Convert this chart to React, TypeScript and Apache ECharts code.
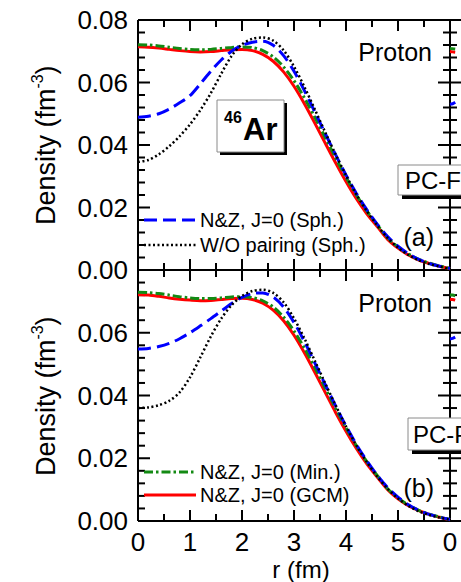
import React, { useEffect, useRef } from 'react';
import * as echarts from 'echarts';

// ---------- data ----------
const R = [0, 0.2, 0.4, 0.6, 0.8, 1.0, 1.2, 1.4, 1.6, 1.8, 2.0, 2.2, 2.4, 2.6, 2.8, 3.0, 3.2, 3.4, 3.6, 3.8, 4.0, 4.2, 4.4, 4.6, 4.8, 5.0, 5.2, 5.4, 5.6, 5.8, 6.0];

// panel (a)
const gcmA = [0.0714, 0.0713, 0.0710, 0.0706, 0.0702, 0.0699, 0.0698, 0.0699, 0.0702, 0.0705, 0.0706, 0.0702, 0.0690, 0.0668, 0.0634, 0.0588, 0.0532, 0.0470, 0.0406, 0.0343, 0.0283, 0.0228, 0.0180, 0.0139, 0.0098, 0.0070, 0.0048, 0.0032, 0.0021, 0.0012, 0.0004];
const minA = [0.0721, 0.0720, 0.0717, 0.0713, 0.0709, 0.0706, 0.0705, 0.0706, 0.0709, 0.0712, 0.0714, 0.0712, 0.0702, 0.0682, 0.0650, 0.0606, 0.0551, 0.0489, 0.0424, 0.0359, 0.0297, 0.0240, 0.0189, 0.0145, 0.0103, 0.0074, 0.0051, 0.0034, 0.0022, 0.0013, 0.0005];
const sphA = [0.0489, 0.0492, 0.0500, 0.0515, 0.0535, 0.0558, 0.0596, 0.0636, 0.0672, 0.0700, 0.0719, 0.0729, 0.0732, 0.0719, 0.0686, 0.0636, 0.0574, 0.0506, 0.0437, 0.0369, 0.0304, 0.0245, 0.0193, 0.0147, 0.0107, 0.0076, 0.0052, 0.0034, 0.0021, 0.0012, 0.0005];
const woA = [0.0346, 0.0352, 0.0370, 0.0396, 0.0428, 0.0466, 0.0512, 0.0566, 0.0628, 0.0685, 0.0722, 0.0740, 0.0744, 0.0734, 0.0703, 0.0651, 0.0586, 0.0514, 0.0441, 0.0370, 0.0303, 0.0242, 0.0189, 0.0143, 0.0103, 0.0072, 0.0048, 0.0031, 0.0019, 0.0011, 0.0004];

// panel (b)
const gcmB = [0.0721, 0.0720, 0.0716, 0.0711, 0.0707, 0.0704, 0.0702, 0.0703, 0.0706, 0.0709, 0.0710, 0.0706, 0.0694, 0.0672, 0.0638, 0.0592, 0.0536, 0.0474, 0.0410, 0.0346, 0.0286, 0.0231, 0.0182, 0.0140, 0.0100, 0.0071, 0.0049, 0.0033, 0.0021, 0.0012, 0.0004];
const minB = [0.0729, 0.0728, 0.0725, 0.0720, 0.0715, 0.0711, 0.0709, 0.0709, 0.0711, 0.0714, 0.0715, 0.0712, 0.0702, 0.0682, 0.0650, 0.0606, 0.0551, 0.0489, 0.0424, 0.0359, 0.0297, 0.0240, 0.0189, 0.0145, 0.0103, 0.0074, 0.0051, 0.0034, 0.0022, 0.0013, 0.0005];
const sphB = [0.0548, 0.0550, 0.0556, 0.0566, 0.0581, 0.0600, 0.0622, 0.0645, 0.0669, 0.0693, 0.0713, 0.0725, 0.0727, 0.0714, 0.0682, 0.0633, 0.0572, 0.0504, 0.0435, 0.0367, 0.0303, 0.0244, 0.0192, 0.0146, 0.0107, 0.0076, 0.0052, 0.0034, 0.0021, 0.0012, 0.0005];
const woB = [0.0360, 0.0362, 0.0369, 0.0383, 0.0410, 0.0458, 0.0522, 0.0588, 0.0645, 0.0688, 0.0717, 0.0733, 0.0737, 0.0727, 0.0697, 0.0646, 0.0582, 0.0511, 0.0439, 0.0369, 0.0302, 0.0241, 0.0188, 0.0142, 0.0103, 0.0072, 0.0048, 0.0031, 0.0019, 0.0011, 0.0004];

// neighbouring (cropped) panels, only their first points are visible
const nbR = [0, 0.2, 0.4];
const nbGcmA = [0.0699, 0.0698, 0.0697];
const nbMinA = [0.0709, 0.0708, 0.0707];
const nbSphA = [0.0530, 0.0532, 0.0537];
const nbGcmB = [0.0707, 0.0706, 0.0704];
const nbMinB = [0.0721, 0.0720, 0.0718];
const nbSphB = [0.0580, 0.0582, 0.0586];

// axes
const X_MIN = 0;
const X_MAX = 6;
const X_STEP = 1;
const Y_MIN = 0;
const Y_MAX = 0.08;
const Y_STEP = 0.02;
// tick marks (major ones carry labels)
const X_TICKS = [0, 0.5, 1, 1.5, 2, 2.5, 3, 3.5, 4, 4.5, 5, 5.5, 6];
const Y_TICKS = [0, 0.004, 0.008, 0.012, 0.016, 0.02, 0.024, 0.028, 0.032, 0.036, 0.04, 0.044, 0.048, 0.052, 0.056, 0.06, 0.064, 0.068, 0.072, 0.076, 0.08];

const SPH = 'N&Z, J=0 (Sph.)';
const WO = 'W/O pairing (Sph.)';
const MIN = 'N&Z, J=0 (Min.)';
const GCM = 'N&Z, J=0 (GCM)';

const FONT = '"Liberation Sans", Arial, Helvetica, sans-serif';

const pairs = (xs: number[], ys: number[]) => xs.map((x, i) => [x, ys[i]]);
const isMajor = (v: number, step: number) => Math.abs(v / step - Math.round(v / step)) < 1e-6;

// labelMode: 'none' | 'main' (0..5) | 'first' (only 0)
const xAxisDef = (gridIndex: number, position: string, labelMode: string) => ({
  type: 'value',
  gridIndex,
  position,
  min: X_MIN,
  max: X_MAX,
  interval: X_STEP,
  axisLine: { show: false, onZero: false },
  axisTick: { show: false },
  minorTick: { show: false },
  splitLine: { show: false },
  minorSplitLine: { show: false },
  axisLabel: {
    show: labelMode !== 'none',
    fontSize: 26,
    color: '#000',
    fontFamily: FONT,
    formatter: (v: number) => (labelMode === 'first' ? (v === 0 ? '0' : '') : v >= X_MAX ? '' : String(v)),
  },
});

const yAxisDef = (gridIndex: number, position: string, labels: boolean, hideTop: boolean) => ({
  type: 'value',
  gridIndex,
  position,
  min: Y_MIN,
  max: Y_MAX,
  interval: Y_STEP,
  axisLine: { show: false, onZero: false },
  axisTick: { show: false },
  minorTick: { show: false },
  splitLine: { show: false },
  minorSplitLine: { show: false },
  axisLabel: {
    show: labels,
    margin: 10,
    fontSize: 26,
    color: '#000',
    fontFamily: FONT,
    formatter: (v: number) => (hideTop && v > Y_MAX - 1e-6 ? '' : v.toFixed(2)),
  },
});

const COLORS = { gcm: '#ff0000', min: '#138a13', sph: '#0000ff', wo: '#000000' };
const DASH_SPH = [13, 6];
const DASH_WO = [2, 2.5];
const DASH_MIN = [9, 3, 2.5, 3];

const lineSeries = (name: string, xs: number[], ys: number[], xi: number, yi: number, color: string, type: any, width: number) => ({
  type: 'line',
  name,
  xAxisIndex: xi,
  yAxisIndex: yi,
  data: pairs(xs, ys),
  symbol: 'none',
  smooth: 0.3,
  silent: true,
  z: 3,
  lineStyle: { color, width, type },
});

// frame and inward ticks of one panel, positioned through the axes' scales (api.coord)
const frameSeries = (xi: number, yi: number, full: boolean) => ({
  type: 'custom',
  xAxisIndex: xi,
  yAxisIndex: yi,
  silent: true,
  clip: false,
  z: 2,
  data: [[X_MIN, Y_MIN]],
  renderItem: (_params: any, api: any) => {
    const ln = (x1: number, y1: number, x2: number, y2: number) => ({
      type: 'line',
      shape: { x1, y1, x2, y2 },
      style: { stroke: '#000', lineWidth: 2, fill: null },
    });
    const lb = api.coord([X_MIN, Y_MIN]);
    const rt = api.coord([X_MAX, Y_MAX]);
    const L = lb[0];
    const B = lb[1];
    const Rt = rt[0];
    const T = rt[1];
    const children: any[] = [ln(L, T, Rt, T), ln(L, B, Rt, B), ln(L, T, L, B), ln(Rt, T, Rt, B)];
    Y_TICKS.forEach((t) => {
      const py = api.coord([X_MIN, t])[1];
      const len = isMajor(t, Y_STEP) ? 12 : 7;
      children.push(ln(L, py, L + len, py));
      if (full) children.push(ln(Rt, py, Rt - len, py));
    });
    if (full) {
      X_TICKS.forEach((t) => {
        const px = api.coord([t, Y_MIN])[0];
        const len = isMajor(t, X_STEP) ? 11 : 7;
        children.push(ln(px, B, px, B - len));
        children.push(ln(px, T, px, T + len));
      });
    }
    return { type: 'group', children };
  },
});

const txt = (x: number, y: number, text: string, size: number, align = 'left', weight = 'normal') => ({
  type: 'text',
  x,
  y,
  z: 50,
  silent: true,
  style: {
    text,
    fontSize: size,
    fontFamily: FONT,
    fontWeight: weight,
    fill: '#000',
    align,
    verticalAlign: 'middle',
  },
});

const legendLine = (x1: number, x2: number, y: number, color: string, dash: any, width: number) => {
  const style: any = { stroke: color, lineWidth: width };
  if (dash) style.lineDash = dash;
  return { type: 'line', z: 50, silent: true, shape: { x1, y1: y, x2, y2: y }, style };
};

const shadowBox = (x: number, y: number, w: number, h: number, off: number) => [
  { type: 'rect', z: 60, silent: true, shape: { x: x + off, y: y + off, width: w, height: h }, style: { fill: '#000' } },
  { type: 'rect', z: 61, silent: true, shape: { x, y, width: w, height: h }, style: { fill: '#fff', stroke: '#8a8a8a', lineWidth: 1 } },
];

// rotated "Density (fm^-3)" made of three plain texts in a rotated group
const yTitle = (cx: number, cy: number) => ({
  type: 'group',
  x: cx,
  y: cy,
  rotation: Math.PI / 2,
  silent: true,
  children: [
    { type: 'text', x: -80, y: 0, z: 50, style: { text: 'Density (fm', fontSize: 27, fontFamily: FONT, fill: '#000', align: 'left', verticalAlign: 'middle' } },
    { type: 'text', x: 56.5, y: -9, z: 50, style: { text: '-3', fontSize: 16, fontFamily: FONT, fill: '#000', align: 'left', verticalAlign: 'middle' } },
    { type: 'text', x: 70.5, y: 0, z: 50, style: { text: ')', fontSize: 27, fontFamily: FONT, fill: '#000', align: 'left', verticalAlign: 'middle' } },
  ],
});

export default function App() {
  const ref = useRef<HTMLDivElement>(null);

  useEffect(() => {
    if (!ref.current) return;
    const chart = echarts.init(ref.current, undefined, { renderer: 'svg' });
    const option: any = {
      animation: false,
      backgroundColor: '#fff',
      grid: [
        { left: 138, top: 20, width: 312, height: 250 },
        { left: 138, top: 270, width: 312, height: 251 },
        { left: 450, top: 20, width: 312, height: 250 },
        { left: 450, top: 270, width: 312, height: 251 },
      ],
      xAxis: [
        xAxisDef(0, 'bottom', 'none'),
        xAxisDef(0, 'top', 'none'),
        xAxisDef(1, 'bottom', 'main'),
        xAxisDef(1, 'top', 'none'),
        xAxisDef(2, 'bottom', 'none'),
        xAxisDef(2, 'top', 'none'),
        xAxisDef(3, 'bottom', 'first'),
        xAxisDef(3, 'top', 'none'),
      ],
      yAxis: [
        yAxisDef(0, 'left', true, false),
        yAxisDef(0, 'right', false, false),
        yAxisDef(1, 'left', true, true),
        yAxisDef(1, 'right', false, false),
        yAxisDef(2, 'left', false, false),
        yAxisDef(3, 'left', false, false),
      ],
      series: [
        frameSeries(0, 0, true),
        frameSeries(2, 2, true),
        frameSeries(4, 4, false),
        frameSeries(6, 5, false),
        lineSeries(GCM, R, gcmA, 0, 0, COLORS.gcm, 'solid', 3),
        lineSeries(MIN, R, minA, 0, 0, COLORS.min, DASH_MIN, 3),
        lineSeries(SPH, R, sphA, 0, 0, COLORS.sph, DASH_SPH, 3),
        lineSeries(WO, R, woA, 0, 0, COLORS.wo, DASH_WO, 2.5),
        lineSeries(GCM, R, gcmB, 2, 2, COLORS.gcm, 'solid', 3),
        lineSeries(MIN, R, minB, 2, 2, COLORS.min, DASH_MIN, 3),
        lineSeries(SPH, R, sphB, 2, 2, COLORS.sph, DASH_SPH, 3),
        lineSeries(WO, R, woB, 2, 2, COLORS.wo, DASH_WO, 2.5),
        lineSeries(GCM, nbR, nbGcmA, 4, 4, COLORS.gcm, 'solid', 3),
        lineSeries(MIN, nbR, nbMinA, 4, 4, COLORS.min, DASH_MIN, 3),
        lineSeries(SPH, nbR, nbSphA, 4, 4, COLORS.sph, DASH_SPH, 3),
        lineSeries(GCM, nbR, nbGcmB, 6, 5, COLORS.gcm, 'solid', 3),
        lineSeries(MIN, nbR, nbMinB, 6, 5, COLORS.min, DASH_MIN, 3),
        lineSeries(SPH, nbR, nbSphB, 6, 5, COLORS.sph, DASH_SPH, 3),
      ],
      graphic: [
        yTitle(46, 145),
        yTitle(46, 396),
        txt(301, 569, 'r (fm)', 24, 'center'),
        txt(432, 52, 'Proton', 25, 'right'),
        txt(432, 303, 'Proton', 25, 'right'),
        txt(434, 237, '(a)', 25, 'right'),
        txt(434, 488, '(b)', 25, 'right'),
        // legend (a)
        legendLine(144, 196, 220, COLORS.sph, DASH_SPH, 3),
        txt(200, 220, SPH, 20),
        legendLine(144, 196, 245, COLORS.wo, DASH_WO, 2.5),
        txt(200, 245, WO, 20),
        // legend (b)
        legendLine(144, 196, 472, COLORS.min, DASH_MIN, 3),
        txt(200, 472, MIN, 20),
        legendLine(144, 196, 495, COLORS.gcm, null, 3),
        txt(200, 495, GCM, 20),
        // 46Ar box
        ...shadowBox(217, 100, 67, 52, 3),
        { ...txt(224, 117, '46', 16, 'left', 'bold'), z: 70 },
        { ...txt(243, 129, 'Ar', 31, 'left', 'bold'), z: 70 },
        // labels of the neighbouring panels (cropped by the picture edge)
        ...shadowBox(398, 165, 90, 30, 4),
        { ...txt(405, 180, 'PC-F1', 24), z: 70 },
        ...shadowBox(408, 418, 90, 32, 4),
        { ...txt(413, 434, 'PC-PK1', 24), z: 70 },
      ],
    };
    chart.setOption(option);
    return () => chart.dispose();
  }, []);

  return (
    <div style={{ position: 'fixed', left: 0, top: 0, width: 461, height: 582, background: '#fff' }}>
      <div ref={ref} style={{ width: 461, height: 582 }} />
    </div>
  );
}
